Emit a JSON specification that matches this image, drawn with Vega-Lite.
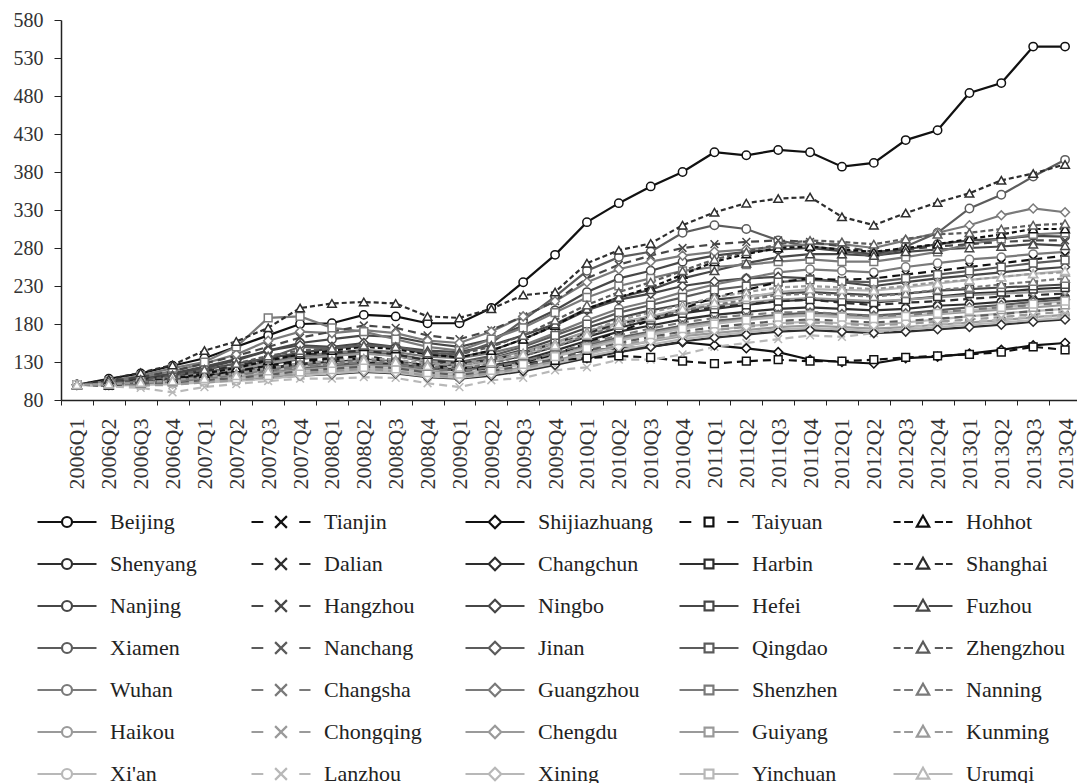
{
"$schema": "https://vega.github.io/schema/vega-lite/v6.json",
"width": 1020, "height": 380,
"padding": {"left": 13, "top": 10, "right": 0, "bottom": 0},
"background": "white",
"config": {"view": {"stroke": null}, "font": "Liberation Serif"},
"data": {"values": [
{"c":"Beijing","q":"2006Q1","v":100},{"c":"Beijing","q":"2006Q2","v":108},{"c":"Beijing","q":"2006Q3","v":115},{"c":"Beijing","q":"2006Q4","v":125},{"c":"Beijing","q":"2007Q1","v":135},{"c":"Beijing","q":"2007Q2","v":150},{"c":"Beijing","q":"2007Q3","v":165},{"c":"Beijing","q":"2007Q4","v":180},{"c":"Beijing","q":"2008Q1","v":181},{"c":"Beijing","q":"2008Q2","v":192},{"c":"Beijing","q":"2008Q3","v":190},{"c":"Beijing","q":"2008Q4","v":181},{"c":"Beijing","q":"2009Q1","v":181},{"c":"Beijing","q":"2009Q2","v":201},{"c":"Beijing","q":"2009Q3","v":235},{"c":"Beijing","q":"2009Q4","v":271},{"c":"Beijing","q":"2010Q1","v":314},{"c":"Beijing","q":"2010Q2","v":339},{"c":"Beijing","q":"2010Q3","v":361},{"c":"Beijing","q":"2010Q4","v":380},{"c":"Beijing","q":"2011Q1","v":406},{"c":"Beijing","q":"2011Q2","v":402},{"c":"Beijing","q":"2011Q3","v":409},{"c":"Beijing","q":"2011Q4","v":406},{"c":"Beijing","q":"2012Q1","v":387},{"c":"Beijing","q":"2012Q2","v":392},{"c":"Beijing","q":"2012Q3","v":422},{"c":"Beijing","q":"2012Q4","v":435},{"c":"Beijing","q":"2013Q1","v":484},{"c":"Beijing","q":"2013Q2","v":497},{"c":"Beijing","q":"2013Q3","v":545},{"c":"Beijing","q":"2013Q4","v":545},
{"c":"Tianjin","q":"2006Q1","v":100},{"c":"Tianjin","q":"2006Q2","v":101},{"c":"Tianjin","q":"2006Q3","v":104},{"c":"Tianjin","q":"2006Q4","v":108},{"c":"Tianjin","q":"2007Q1","v":112},{"c":"Tianjin","q":"2007Q2","v":118},{"c":"Tianjin","q":"2007Q3","v":125},{"c":"Tianjin","q":"2007Q4","v":132},{"c":"Tianjin","q":"2008Q1","v":135},{"c":"Tianjin","q":"2008Q2","v":138},{"c":"Tianjin","q":"2008Q3","v":132},{"c":"Tianjin","q":"2008Q4","v":125},{"c":"Tianjin","q":"2009Q1","v":118},{"c":"Tianjin","q":"2009Q2","v":122},{"c":"Tianjin","q":"2009Q3","v":130},{"c":"Tianjin","q":"2009Q4","v":140},{"c":"Tianjin","q":"2010Q1","v":155},{"c":"Tianjin","q":"2010Q2","v":170},{"c":"Tianjin","q":"2010Q3","v":185},{"c":"Tianjin","q":"2010Q4","v":200},{"c":"Tianjin","q":"2011Q1","v":215},{"c":"Tianjin","q":"2011Q2","v":225},{"c":"Tianjin","q":"2011Q3","v":235},{"c":"Tianjin","q":"2011Q4","v":240},{"c":"Tianjin","q":"2012Q1","v":238},{"c":"Tianjin","q":"2012Q2","v":240},{"c":"Tianjin","q":"2012Q3","v":245},{"c":"Tianjin","q":"2012Q4","v":250},{"c":"Tianjin","q":"2013Q1","v":255},{"c":"Tianjin","q":"2013Q2","v":260},{"c":"Tianjin","q":"2013Q3","v":265},{"c":"Tianjin","q":"2013Q4","v":270},
{"c":"Shijiazhuang","q":"2006Q1","v":100},{"c":"Shijiazhuang","q":"2006Q2","v":101},{"c":"Shijiazhuang","q":"2006Q3","v":103},{"c":"Shijiazhuang","q":"2006Q4","v":105},{"c":"Shijiazhuang","q":"2007Q1","v":108},{"c":"Shijiazhuang","q":"2007Q2","v":112},{"c":"Shijiazhuang","q":"2007Q3","v":118},{"c":"Shijiazhuang","q":"2007Q4","v":125},{"c":"Shijiazhuang","q":"2008Q1","v":128},{"c":"Shijiazhuang","q":"2008Q2","v":130},{"c":"Shijiazhuang","q":"2008Q3","v":127},{"c":"Shijiazhuang","q":"2008Q4","v":122},{"c":"Shijiazhuang","q":"2009Q1","v":120},{"c":"Shijiazhuang","q":"2009Q2","v":125},{"c":"Shijiazhuang","q":"2009Q3","v":132},{"c":"Shijiazhuang","q":"2009Q4","v":140},{"c":"Shijiazhuang","q":"2010Q1","v":145},{"c":"Shijiazhuang","q":"2010Q2","v":148},{"c":"Shijiazhuang","q":"2010Q3","v":150},{"c":"Shijiazhuang","q":"2010Q4","v":156},{"c":"Shijiazhuang","q":"2011Q1","v":152},{"c":"Shijiazhuang","q":"2011Q2","v":148},{"c":"Shijiazhuang","q":"2011Q3","v":143},{"c":"Shijiazhuang","q":"2011Q4","v":133},{"c":"Shijiazhuang","q":"2012Q1","v":130},{"c":"Shijiazhuang","q":"2012Q2","v":128},{"c":"Shijiazhuang","q":"2012Q3","v":135},{"c":"Shijiazhuang","q":"2012Q4","v":137},{"c":"Shijiazhuang","q":"2013Q1","v":141},{"c":"Shijiazhuang","q":"2013Q2","v":146},{"c":"Shijiazhuang","q":"2013Q3","v":152},{"c":"Shijiazhuang","q":"2013Q4","v":155},
{"c":"Taiyuan","q":"2006Q1","v":100},{"c":"Taiyuan","q":"2006Q2","v":102},{"c":"Taiyuan","q":"2006Q3","v":104},{"c":"Taiyuan","q":"2006Q4","v":106},{"c":"Taiyuan","q":"2007Q1","v":110},{"c":"Taiyuan","q":"2007Q2","v":115},{"c":"Taiyuan","q":"2007Q3","v":122},{"c":"Taiyuan","q":"2007Q4","v":130},{"c":"Taiyuan","q":"2008Q1","v":133},{"c":"Taiyuan","q":"2008Q2","v":135},{"c":"Taiyuan","q":"2008Q3","v":130},{"c":"Taiyuan","q":"2008Q4","v":125},{"c":"Taiyuan","q":"2009Q1","v":122},{"c":"Taiyuan","q":"2009Q2","v":124},{"c":"Taiyuan","q":"2009Q3","v":128},{"c":"Taiyuan","q":"2009Q4","v":132},{"c":"Taiyuan","q":"2010Q1","v":135},{"c":"Taiyuan","q":"2010Q2","v":138},{"c":"Taiyuan","q":"2010Q3","v":136},{"c":"Taiyuan","q":"2010Q4","v":131},{"c":"Taiyuan","q":"2011Q1","v":128},{"c":"Taiyuan","q":"2011Q2","v":131},{"c":"Taiyuan","q":"2011Q3","v":133},{"c":"Taiyuan","q":"2011Q4","v":131},{"c":"Taiyuan","q":"2012Q1","v":131},{"c":"Taiyuan","q":"2012Q2","v":133},{"c":"Taiyuan","q":"2012Q3","v":136},{"c":"Taiyuan","q":"2012Q4","v":138},{"c":"Taiyuan","q":"2013Q1","v":140},{"c":"Taiyuan","q":"2013Q2","v":143},{"c":"Taiyuan","q":"2013Q3","v":150},{"c":"Taiyuan","q":"2013Q4","v":146},
{"c":"Hohhot","q":"2006Q1","v":100},{"c":"Hohhot","q":"2006Q2","v":99},{"c":"Hohhot","q":"2006Q3","v":103},{"c":"Hohhot","q":"2006Q4","v":108},{"c":"Hohhot","q":"2007Q1","v":115},{"c":"Hohhot","q":"2007Q2","v":122},{"c":"Hohhot","q":"2007Q3","v":132},{"c":"Hohhot","q":"2007Q4","v":140},{"c":"Hohhot","q":"2008Q1","v":145},{"c":"Hohhot","q":"2008Q2","v":150},{"c":"Hohhot","q":"2008Q3","v":147},{"c":"Hohhot","q":"2008Q4","v":140},{"c":"Hohhot","q":"2009Q1","v":136},{"c":"Hohhot","q":"2009Q2","v":145},{"c":"Hohhot","q":"2009Q3","v":160},{"c":"Hohhot","q":"2009Q4","v":178},{"c":"Hohhot","q":"2010Q1","v":200},{"c":"Hohhot","q":"2010Q2","v":215},{"c":"Hohhot","q":"2010Q3","v":228},{"c":"Hohhot","q":"2010Q4","v":245},{"c":"Hohhot","q":"2011Q1","v":262},{"c":"Hohhot","q":"2011Q2","v":272},{"c":"Hohhot","q":"2011Q3","v":280},{"c":"Hohhot","q":"2011Q4","v":282},{"c":"Hohhot","q":"2012Q1","v":278},{"c":"Hohhot","q":"2012Q2","v":275},{"c":"Hohhot","q":"2012Q3","v":280},{"c":"Hohhot","q":"2012Q4","v":285},{"c":"Hohhot","q":"2013Q1","v":292},{"c":"Hohhot","q":"2013Q2","v":298},{"c":"Hohhot","q":"2013Q3","v":305},{"c":"Hohhot","q":"2013Q4","v":305},
{"c":"Shenyang","q":"2006Q1","v":100},{"c":"Shenyang","q":"2006Q2","v":102},{"c":"Shenyang","q":"2006Q3","v":104},{"c":"Shenyang","q":"2006Q4","v":107},{"c":"Shenyang","q":"2007Q1","v":111},{"c":"Shenyang","q":"2007Q2","v":116},{"c":"Shenyang","q":"2007Q3","v":122},{"c":"Shenyang","q":"2007Q4","v":128},{"c":"Shenyang","q":"2008Q1","v":130},{"c":"Shenyang","q":"2008Q2","v":132},{"c":"Shenyang","q":"2008Q3","v":129},{"c":"Shenyang","q":"2008Q4","v":123},{"c":"Shenyang","q":"2009Q1","v":120},{"c":"Shenyang","q":"2009Q2","v":125},{"c":"Shenyang","q":"2009Q3","v":133},{"c":"Shenyang","q":"2009Q4","v":145},{"c":"Shenyang","q":"2010Q1","v":158},{"c":"Shenyang","q":"2010Q2","v":170},{"c":"Shenyang","q":"2010Q3","v":178},{"c":"Shenyang","q":"2010Q4","v":186},{"c":"Shenyang","q":"2011Q1","v":192},{"c":"Shenyang","q":"2011Q2","v":196},{"c":"Shenyang","q":"2011Q3","v":200},{"c":"Shenyang","q":"2011Q4","v":202},{"c":"Shenyang","q":"2012Q1","v":200},{"c":"Shenyang","q":"2012Q2","v":198},{"c":"Shenyang","q":"2012Q3","v":200},{"c":"Shenyang","q":"2012Q4","v":204},{"c":"Shenyang","q":"2013Q1","v":206},{"c":"Shenyang","q":"2013Q2","v":209},{"c":"Shenyang","q":"2013Q3","v":212},{"c":"Shenyang","q":"2013Q4","v":215},
{"c":"Dalian","q":"2006Q1","v":100},{"c":"Dalian","q":"2006Q2","v":103},{"c":"Dalian","q":"2006Q3","v":107},{"c":"Dalian","q":"2006Q4","v":112},{"c":"Dalian","q":"2007Q1","v":118},{"c":"Dalian","q":"2007Q2","v":125},{"c":"Dalian","q":"2007Q3","v":133},{"c":"Dalian","q":"2007Q4","v":140},{"c":"Dalian","q":"2008Q1","v":142},{"c":"Dalian","q":"2008Q2","v":145},{"c":"Dalian","q":"2008Q3","v":140},{"c":"Dalian","q":"2008Q4","v":132},{"c":"Dalian","q":"2009Q1","v":128},{"c":"Dalian","q":"2009Q2","v":133},{"c":"Dalian","q":"2009Q3","v":142},{"c":"Dalian","q":"2009Q4","v":155},{"c":"Dalian","q":"2010Q1","v":168},{"c":"Dalian","q":"2010Q2","v":180},{"c":"Dalian","q":"2010Q3","v":188},{"c":"Dalian","q":"2010Q4","v":196},{"c":"Dalian","q":"2011Q1","v":202},{"c":"Dalian","q":"2011Q2","v":206},{"c":"Dalian","q":"2011Q3","v":210},{"c":"Dalian","q":"2011Q4","v":212},{"c":"Dalian","q":"2012Q1","v":208},{"c":"Dalian","q":"2012Q2","v":205},{"c":"Dalian","q":"2012Q3","v":208},{"c":"Dalian","q":"2012Q4","v":210},{"c":"Dalian","q":"2013Q1","v":213},{"c":"Dalian","q":"2013Q2","v":216},{"c":"Dalian","q":"2013Q3","v":218},{"c":"Dalian","q":"2013Q4","v":220},
{"c":"Changchun","q":"2006Q1","v":100},{"c":"Changchun","q":"2006Q2","v":100},{"c":"Changchun","q":"2006Q3","v":101},{"c":"Changchun","q":"2006Q4","v":102},{"c":"Changchun","q":"2007Q1","v":104},{"c":"Changchun","q":"2007Q2","v":106},{"c":"Changchun","q":"2007Q3","v":109},{"c":"Changchun","q":"2007Q4","v":112},{"c":"Changchun","q":"2008Q1","v":114},{"c":"Changchun","q":"2008Q2","v":117},{"c":"Changchun","q":"2008Q3","v":115},{"c":"Changchun","q":"2008Q4","v":110},{"c":"Changchun","q":"2009Q1","v":108},{"c":"Changchun","q":"2009Q2","v":112},{"c":"Changchun","q":"2009Q3","v":118},{"c":"Changchun","q":"2009Q4","v":126},{"c":"Changchun","q":"2010Q1","v":135},{"c":"Changchun","q":"2010Q2","v":143},{"c":"Changchun","q":"2010Q3","v":150},{"c":"Changchun","q":"2010Q4","v":157},{"c":"Changchun","q":"2011Q1","v":162},{"c":"Changchun","q":"2011Q2","v":166},{"c":"Changchun","q":"2011Q3","v":170},{"c":"Changchun","q":"2011Q4","v":172},{"c":"Changchun","q":"2012Q1","v":170},{"c":"Changchun","q":"2012Q2","v":168},{"c":"Changchun","q":"2012Q3","v":170},{"c":"Changchun","q":"2012Q4","v":173},{"c":"Changchun","q":"2013Q1","v":176},{"c":"Changchun","q":"2013Q2","v":179},{"c":"Changchun","q":"2013Q3","v":183},{"c":"Changchun","q":"2013Q4","v":186},
{"c":"Harbin","q":"2006Q1","v":100},{"c":"Harbin","q":"2006Q2","v":101},{"c":"Harbin","q":"2006Q3","v":103},{"c":"Harbin","q":"2006Q4","v":106},{"c":"Harbin","q":"2007Q1","v":110},{"c":"Harbin","q":"2007Q2","v":115},{"c":"Harbin","q":"2007Q3","v":121},{"c":"Harbin","q":"2007Q4","v":127},{"c":"Harbin","q":"2008Q1","v":130},{"c":"Harbin","q":"2008Q2","v":133},{"c":"Harbin","q":"2008Q3","v":131},{"c":"Harbin","q":"2008Q4","v":126},{"c":"Harbin","q":"2009Q1","v":124},{"c":"Harbin","q":"2009Q2","v":130},{"c":"Harbin","q":"2009Q3","v":138},{"c":"Harbin","q":"2009Q4","v":150},{"c":"Harbin","q":"2010Q1","v":163},{"c":"Harbin","q":"2010Q2","v":175},{"c":"Harbin","q":"2010Q3","v":185},{"c":"Harbin","q":"2010Q4","v":194},{"c":"Harbin","q":"2011Q1","v":200},{"c":"Harbin","q":"2011Q2","v":205},{"c":"Harbin","q":"2011Q3","v":210},{"c":"Harbin","q":"2011Q4","v":212},{"c":"Harbin","q":"2012Q1","v":210},{"c":"Harbin","q":"2012Q2","v":208},{"c":"Harbin","q":"2012Q3","v":212},{"c":"Harbin","q":"2012Q4","v":216},{"c":"Harbin","q":"2013Q1","v":220},{"c":"Harbin","q":"2013Q2","v":222},{"c":"Harbin","q":"2013Q3","v":226},{"c":"Harbin","q":"2013Q4","v":228},
{"c":"Shanghai","q":"2006Q1","v":100},{"c":"Shanghai","q":"2006Q2","v":107},{"c":"Shanghai","q":"2006Q3","v":116},{"c":"Shanghai","q":"2006Q4","v":126},{"c":"Shanghai","q":"2007Q1","v":145},{"c":"Shanghai","q":"2007Q2","v":157},{"c":"Shanghai","q":"2007Q3","v":175},{"c":"Shanghai","q":"2007Q4","v":201},{"c":"Shanghai","q":"2008Q1","v":207},{"c":"Shanghai","q":"2008Q2","v":209},{"c":"Shanghai","q":"2008Q3","v":207},{"c":"Shanghai","q":"2008Q4","v":190},{"c":"Shanghai","q":"2009Q1","v":188},{"c":"Shanghai","q":"2009Q2","v":200},{"c":"Shanghai","q":"2009Q3","v":218},{"c":"Shanghai","q":"2009Q4","v":222},{"c":"Shanghai","q":"2010Q1","v":260},{"c":"Shanghai","q":"2010Q2","v":277},{"c":"Shanghai","q":"2010Q3","v":286},{"c":"Shanghai","q":"2010Q4","v":310},{"c":"Shanghai","q":"2011Q1","v":327},{"c":"Shanghai","q":"2011Q2","v":339},{"c":"Shanghai","q":"2011Q3","v":345},{"c":"Shanghai","q":"2011Q4","v":347},{"c":"Shanghai","q":"2012Q1","v":321},{"c":"Shanghai","q":"2012Q2","v":310},{"c":"Shanghai","q":"2012Q3","v":326},{"c":"Shanghai","q":"2012Q4","v":340},{"c":"Shanghai","q":"2013Q1","v":352},{"c":"Shanghai","q":"2013Q2","v":369},{"c":"Shanghai","q":"2013Q3","v":378},{"c":"Shanghai","q":"2013Q4","v":390},
{"c":"Nanjing","q":"2006Q1","v":100},{"c":"Nanjing","q":"2006Q2","v":104},{"c":"Nanjing","q":"2006Q3","v":108},{"c":"Nanjing","q":"2006Q4","v":115},{"c":"Nanjing","q":"2007Q1","v":124},{"c":"Nanjing","q":"2007Q2","v":134},{"c":"Nanjing","q":"2007Q3","v":145},{"c":"Nanjing","q":"2007Q4","v":155},{"c":"Nanjing","q":"2008Q1","v":160},{"c":"Nanjing","q":"2008Q2","v":165},{"c":"Nanjing","q":"2008Q3","v":163},{"c":"Nanjing","q":"2008Q4","v":155},{"c":"Nanjing","q":"2009Q1","v":150},{"c":"Nanjing","q":"2009Q2","v":160},{"c":"Nanjing","q":"2009Q3","v":178},{"c":"Nanjing","q":"2009Q4","v":198},{"c":"Nanjing","q":"2010Q1","v":222},{"c":"Nanjing","q":"2010Q2","v":240},{"c":"Nanjing","q":"2010Q3","v":250},{"c":"Nanjing","q":"2010Q4","v":262},{"c":"Nanjing","q":"2011Q1","v":270},{"c":"Nanjing","q":"2011Q2","v":275},{"c":"Nanjing","q":"2011Q3","v":278},{"c":"Nanjing","q":"2011Q4","v":280},{"c":"Nanjing","q":"2012Q1","v":276},{"c":"Nanjing","q":"2012Q2","v":272},{"c":"Nanjing","q":"2012Q3","v":278},{"c":"Nanjing","q":"2012Q4","v":285},{"c":"Nanjing","q":"2013Q1","v":290},{"c":"Nanjing","q":"2013Q2","v":292},{"c":"Nanjing","q":"2013Q3","v":296},{"c":"Nanjing","q":"2013Q4","v":295},
{"c":"Hangzhou","q":"2006Q1","v":100},{"c":"Hangzhou","q":"2006Q2","v":105},{"c":"Hangzhou","q":"2006Q3","v":110},{"c":"Hangzhou","q":"2006Q4","v":118},{"c":"Hangzhou","q":"2007Q1","v":128},{"c":"Hangzhou","q":"2007Q2","v":138},{"c":"Hangzhou","q":"2007Q3","v":150},{"c":"Hangzhou","q":"2007Q4","v":162},{"c":"Hangzhou","q":"2008Q1","v":170},{"c":"Hangzhou","q":"2008Q2","v":178},{"c":"Hangzhou","q":"2008Q3","v":175},{"c":"Hangzhou","q":"2008Q4","v":165},{"c":"Hangzhou","q":"2009Q1","v":160},{"c":"Hangzhou","q":"2009Q2","v":172},{"c":"Hangzhou","q":"2009Q3","v":190},{"c":"Hangzhou","q":"2009Q4","v":210},{"c":"Hangzhou","q":"2010Q1","v":240},{"c":"Hangzhou","q":"2010Q2","v":258},{"c":"Hangzhou","q":"2010Q3","v":270},{"c":"Hangzhou","q":"2010Q4","v":280},{"c":"Hangzhou","q":"2011Q1","v":285},{"c":"Hangzhou","q":"2011Q2","v":288},{"c":"Hangzhou","q":"2011Q3","v":290},{"c":"Hangzhou","q":"2011Q4","v":288},{"c":"Hangzhou","q":"2012Q1","v":282},{"c":"Hangzhou","q":"2012Q2","v":275},{"c":"Hangzhou","q":"2012Q3","v":278},{"c":"Hangzhou","q":"2012Q4","v":282},{"c":"Hangzhou","q":"2013Q1","v":285},{"c":"Hangzhou","q":"2013Q2","v":288},{"c":"Hangzhou","q":"2013Q3","v":290},{"c":"Hangzhou","q":"2013Q4","v":290},
{"c":"Ningbo","q":"2006Q1","v":100},{"c":"Ningbo","q":"2006Q2","v":104},{"c":"Ningbo","q":"2006Q3","v":108},{"c":"Ningbo","q":"2006Q4","v":114},{"c":"Ningbo","q":"2007Q1","v":122},{"c":"Ningbo","q":"2007Q2","v":132},{"c":"Ningbo","q":"2007Q3","v":145},{"c":"Ningbo","q":"2007Q4","v":152},{"c":"Ningbo","q":"2008Q1","v":150},{"c":"Ningbo","q":"2008Q2","v":155},{"c":"Ningbo","q":"2008Q3","v":150},{"c":"Ningbo","q":"2008Q4","v":140},{"c":"Ningbo","q":"2009Q1","v":136},{"c":"Ningbo","q":"2009Q2","v":145},{"c":"Ningbo","q":"2009Q3","v":160},{"c":"Ningbo","q":"2009Q4","v":178},{"c":"Ningbo","q":"2010Q1","v":198},{"c":"Ningbo","q":"2010Q2","v":212},{"c":"Ningbo","q":"2010Q3","v":220},{"c":"Ningbo","q":"2010Q4","v":230},{"c":"Ningbo","q":"2011Q1","v":236},{"c":"Ningbo","q":"2011Q2","v":240},{"c":"Ningbo","q":"2011Q3","v":242},{"c":"Ningbo","q":"2011Q4","v":240},{"c":"Ningbo","q":"2012Q1","v":235},{"c":"Ningbo","q":"2012Q2","v":230},{"c":"Ningbo","q":"2012Q3","v":235},{"c":"Ningbo","q":"2012Q4","v":240},{"c":"Ningbo","q":"2013Q1","v":244},{"c":"Ningbo","q":"2013Q2","v":248},{"c":"Ningbo","q":"2013Q3","v":252},{"c":"Ningbo","q":"2013Q4","v":255},
{"c":"Hefei","q":"2006Q1","v":100},{"c":"Hefei","q":"2006Q2","v":102},{"c":"Hefei","q":"2006Q3","v":104},{"c":"Hefei","q":"2006Q4","v":107},{"c":"Hefei","q":"2007Q1","v":112},{"c":"Hefei","q":"2007Q2","v":118},{"c":"Hefei","q":"2007Q3","v":126},{"c":"Hefei","q":"2007Q4","v":134},{"c":"Hefei","q":"2008Q1","v":138},{"c":"Hefei","q":"2008Q2","v":142},{"c":"Hefei","q":"2008Q3","v":138},{"c":"Hefei","q":"2008Q4","v":130},{"c":"Hefei","q":"2009Q1","v":127},{"c":"Hefei","q":"2009Q2","v":135},{"c":"Hefei","q":"2009Q3","v":146},{"c":"Hefei","q":"2009Q4","v":160},{"c":"Hefei","q":"2010Q1","v":175},{"c":"Hefei","q":"2010Q2","v":188},{"c":"Hefei","q":"2010Q3","v":198},{"c":"Hefei","q":"2010Q4","v":206},{"c":"Hefei","q":"2011Q1","v":212},{"c":"Hefei","q":"2011Q2","v":216},{"c":"Hefei","q":"2011Q3","v":220},{"c":"Hefei","q":"2011Q4","v":222},{"c":"Hefei","q":"2012Q1","v":220},{"c":"Hefei","q":"2012Q2","v":218},{"c":"Hefei","q":"2012Q3","v":220},{"c":"Hefei","q":"2012Q4","v":224},{"c":"Hefei","q":"2013Q1","v":226},{"c":"Hefei","q":"2013Q2","v":228},{"c":"Hefei","q":"2013Q3","v":230},{"c":"Hefei","q":"2013Q4","v":232},
{"c":"Fuzhou","q":"2006Q1","v":100},{"c":"Fuzhou","q":"2006Q2","v":103},{"c":"Fuzhou","q":"2006Q3","v":107},{"c":"Fuzhou","q":"2006Q4","v":113},{"c":"Fuzhou","q":"2007Q1","v":120},{"c":"Fuzhou","q":"2007Q2","v":128},{"c":"Fuzhou","q":"2007Q3","v":135},{"c":"Fuzhou","q":"2007Q4","v":142},{"c":"Fuzhou","q":"2008Q1","v":148},{"c":"Fuzhou","q":"2008Q2","v":152},{"c":"Fuzhou","q":"2008Q3","v":150},{"c":"Fuzhou","q":"2008Q4","v":145},{"c":"Fuzhou","q":"2009Q1","v":143},{"c":"Fuzhou","q":"2009Q2","v":152},{"c":"Fuzhou","q":"2009Q3","v":165},{"c":"Fuzhou","q":"2009Q4","v":180},{"c":"Fuzhou","q":"2010Q1","v":200},{"c":"Fuzhou","q":"2010Q2","v":215},{"c":"Fuzhou","q":"2010Q3","v":225},{"c":"Fuzhou","q":"2010Q4","v":240},{"c":"Fuzhou","q":"2011Q1","v":250},{"c":"Fuzhou","q":"2011Q2","v":260},{"c":"Fuzhou","q":"2011Q3","v":268},{"c":"Fuzhou","q":"2011Q4","v":272},{"c":"Fuzhou","q":"2012Q1","v":272},{"c":"Fuzhou","q":"2012Q2","v":270},{"c":"Fuzhou","q":"2012Q3","v":275},{"c":"Fuzhou","q":"2012Q4","v":278},{"c":"Fuzhou","q":"2013Q1","v":280},{"c":"Fuzhou","q":"2013Q2","v":282},{"c":"Fuzhou","q":"2013Q3","v":285},{"c":"Fuzhou","q":"2013Q4","v":283},
{"c":"Xiamen","q":"2006Q1","v":100},{"c":"Xiamen","q":"2006Q2","v":103},{"c":"Xiamen","q":"2006Q3","v":106},{"c":"Xiamen","q":"2006Q4","v":110},{"c":"Xiamen","q":"2007Q1","v":116},{"c":"Xiamen","q":"2007Q2","v":124},{"c":"Xiamen","q":"2007Q3","v":135},{"c":"Xiamen","q":"2007Q4","v":150},{"c":"Xiamen","q":"2008Q1","v":148},{"c":"Xiamen","q":"2008Q2","v":152},{"c":"Xiamen","q":"2008Q3","v":150},{"c":"Xiamen","q":"2008Q4","v":142},{"c":"Xiamen","q":"2009Q1","v":140},{"c":"Xiamen","q":"2009Q2","v":155},{"c":"Xiamen","q":"2009Q3","v":185},{"c":"Xiamen","q":"2009Q4","v":216},{"c":"Xiamen","q":"2010Q1","v":250},{"c":"Xiamen","q":"2010Q2","v":268},{"c":"Xiamen","q":"2010Q3","v":275},{"c":"Xiamen","q":"2010Q4","v":300},{"c":"Xiamen","q":"2011Q1","v":310},{"c":"Xiamen","q":"2011Q2","v":305},{"c":"Xiamen","q":"2011Q3","v":290},{"c":"Xiamen","q":"2011Q4","v":282},{"c":"Xiamen","q":"2012Q1","v":278},{"c":"Xiamen","q":"2012Q2","v":268},{"c":"Xiamen","q":"2012Q3","v":282},{"c":"Xiamen","q":"2012Q4","v":300},{"c":"Xiamen","q":"2013Q1","v":332},{"c":"Xiamen","q":"2013Q2","v":350},{"c":"Xiamen","q":"2013Q3","v":374},{"c":"Xiamen","q":"2013Q4","v":396},
{"c":"Nanchang","q":"2006Q1","v":100},{"c":"Nanchang","q":"2006Q2","v":100},{"c":"Nanchang","q":"2006Q3","v":101},{"c":"Nanchang","q":"2006Q4","v":103},{"c":"Nanchang","q":"2007Q1","v":106},{"c":"Nanchang","q":"2007Q2","v":109},{"c":"Nanchang","q":"2007Q3","v":113},{"c":"Nanchang","q":"2007Q4","v":118},{"c":"Nanchang","q":"2008Q1","v":121},{"c":"Nanchang","q":"2008Q2","v":124},{"c":"Nanchang","q":"2008Q3","v":122},{"c":"Nanchang","q":"2008Q4","v":116},{"c":"Nanchang","q":"2009Q1","v":113},{"c":"Nanchang","q":"2009Q2","v":118},{"c":"Nanchang","q":"2009Q3","v":125},{"c":"Nanchang","q":"2009Q4","v":134},{"c":"Nanchang","q":"2010Q1","v":145},{"c":"Nanchang","q":"2010Q2","v":155},{"c":"Nanchang","q":"2010Q3","v":163},{"c":"Nanchang","q":"2010Q4","v":170},{"c":"Nanchang","q":"2011Q1","v":176},{"c":"Nanchang","q":"2011Q2","v":180},{"c":"Nanchang","q":"2011Q3","v":184},{"c":"Nanchang","q":"2011Q4","v":186},{"c":"Nanchang","q":"2012Q1","v":184},{"c":"Nanchang","q":"2012Q2","v":182},{"c":"Nanchang","q":"2012Q3","v":184},{"c":"Nanchang","q":"2012Q4","v":187},{"c":"Nanchang","q":"2013Q1","v":190},{"c":"Nanchang","q":"2013Q2","v":193},{"c":"Nanchang","q":"2013Q3","v":197},{"c":"Nanchang","q":"2013Q4","v":200},
{"c":"Jinan","q":"2006Q1","v":100},{"c":"Jinan","q":"2006Q2","v":101},{"c":"Jinan","q":"2006Q3","v":102},{"c":"Jinan","q":"2006Q4","v":104},{"c":"Jinan","q":"2007Q1","v":107},{"c":"Jinan","q":"2007Q2","v":111},{"c":"Jinan","q":"2007Q3","v":117},{"c":"Jinan","q":"2007Q4","v":122},{"c":"Jinan","q":"2008Q1","v":125},{"c":"Jinan","q":"2008Q2","v":128},{"c":"Jinan","q":"2008Q3","v":126},{"c":"Jinan","q":"2008Q4","v":121},{"c":"Jinan","q":"2009Q1","v":119},{"c":"Jinan","q":"2009Q2","v":124},{"c":"Jinan","q":"2009Q3","v":131},{"c":"Jinan","q":"2009Q4","v":141},{"c":"Jinan","q":"2010Q1","v":152},{"c":"Jinan","q":"2010Q2","v":162},{"c":"Jinan","q":"2010Q3","v":170},{"c":"Jinan","q":"2010Q4","v":178},{"c":"Jinan","q":"2011Q1","v":184},{"c":"Jinan","q":"2011Q2","v":188},{"c":"Jinan","q":"2011Q3","v":192},{"c":"Jinan","q":"2011Q4","v":195},{"c":"Jinan","q":"2012Q1","v":193},{"c":"Jinan","q":"2012Q2","v":191},{"c":"Jinan","q":"2012Q3","v":194},{"c":"Jinan","q":"2012Q4","v":198},{"c":"Jinan","q":"2013Q1","v":202},{"c":"Jinan","q":"2013Q2","v":205},{"c":"Jinan","q":"2013Q3","v":209},{"c":"Jinan","q":"2013Q4","v":212},
{"c":"Qingdao","q":"2006Q1","v":100},{"c":"Qingdao","q":"2006Q2","v":103},{"c":"Qingdao","q":"2006Q3","v":106},{"c":"Qingdao","q":"2006Q4","v":110},{"c":"Qingdao","q":"2007Q1","v":116},{"c":"Qingdao","q":"2007Q2","v":122},{"c":"Qingdao","q":"2007Q3","v":130},{"c":"Qingdao","q":"2007Q4","v":136},{"c":"Qingdao","q":"2008Q1","v":140},{"c":"Qingdao","q":"2008Q2","v":143},{"c":"Qingdao","q":"2008Q3","v":140},{"c":"Qingdao","q":"2008Q4","v":133},{"c":"Qingdao","q":"2009Q1","v":130},{"c":"Qingdao","q":"2009Q2","v":138},{"c":"Qingdao","q":"2009Q3","v":150},{"c":"Qingdao","q":"2009Q4","v":165},{"c":"Qingdao","q":"2010Q1","v":180},{"c":"Qingdao","q":"2010Q2","v":195},{"c":"Qingdao","q":"2010Q3","v":205},{"c":"Qingdao","q":"2010Q4","v":215},{"c":"Qingdao","q":"2011Q1","v":225},{"c":"Qingdao","q":"2011Q2","v":230},{"c":"Qingdao","q":"2011Q3","v":235},{"c":"Qingdao","q":"2011Q4","v":238},{"c":"Qingdao","q":"2012Q1","v":236},{"c":"Qingdao","q":"2012Q2","v":235},{"c":"Qingdao","q":"2012Q3","v":240},{"c":"Qingdao","q":"2012Q4","v":245},{"c":"Qingdao","q":"2013Q1","v":250},{"c":"Qingdao","q":"2013Q2","v":255},{"c":"Qingdao","q":"2013Q3","v":260},{"c":"Qingdao","q":"2013Q4","v":264},
{"c":"Zhengzhou","q":"2006Q1","v":100},{"c":"Zhengzhou","q":"2006Q2","v":102},{"c":"Zhengzhou","q":"2006Q3","v":106},{"c":"Zhengzhou","q":"2006Q4","v":112},{"c":"Zhengzhou","q":"2007Q1","v":120},{"c":"Zhengzhou","q":"2007Q2","v":128},{"c":"Zhengzhou","q":"2007Q3","v":138},{"c":"Zhengzhou","q":"2007Q4","v":145},{"c":"Zhengzhou","q":"2008Q1","v":148},{"c":"Zhengzhou","q":"2008Q2","v":152},{"c":"Zhengzhou","q":"2008Q3","v":150},{"c":"Zhengzhou","q":"2008Q4","v":142},{"c":"Zhengzhou","q":"2009Q1","v":140},{"c":"Zhengzhou","q":"2009Q2","v":150},{"c":"Zhengzhou","q":"2009Q3","v":165},{"c":"Zhengzhou","q":"2009Q4","v":185},{"c":"Zhengzhou","q":"2010Q1","v":205},{"c":"Zhengzhou","q":"2010Q2","v":222},{"c":"Zhengzhou","q":"2010Q3","v":235},{"c":"Zhengzhou","q":"2010Q4","v":250},{"c":"Zhengzhou","q":"2011Q1","v":265},{"c":"Zhengzhou","q":"2011Q2","v":275},{"c":"Zhengzhou","q":"2011Q3","v":285},{"c":"Zhengzhou","q":"2011Q4","v":290},{"c":"Zhengzhou","q":"2012Q1","v":288},{"c":"Zhengzhou","q":"2012Q2","v":285},{"c":"Zhengzhou","q":"2012Q3","v":292},{"c":"Zhengzhou","q":"2012Q4","v":298},{"c":"Zhengzhou","q":"2013Q1","v":300},{"c":"Zhengzhou","q":"2013Q2","v":305},{"c":"Zhengzhou","q":"2013Q3","v":310},{"c":"Zhengzhou","q":"2013Q4","v":312},
{"c":"Wuhan","q":"2006Q1","v":100},{"c":"Wuhan","q":"2006Q2","v":102},{"c":"Wuhan","q":"2006Q3","v":105},{"c":"Wuhan","q":"2006Q4","v":110},{"c":"Wuhan","q":"2007Q1","v":116},{"c":"Wuhan","q":"2007Q2","v":122},{"c":"Wuhan","q":"2007Q3","v":130},{"c":"Wuhan","q":"2007Q4","v":138},{"c":"Wuhan","q":"2008Q1","v":142},{"c":"Wuhan","q":"2008Q2","v":146},{"c":"Wuhan","q":"2008Q3","v":143},{"c":"Wuhan","q":"2008Q4","v":137},{"c":"Wuhan","q":"2009Q1","v":135},{"c":"Wuhan","q":"2009Q2","v":142},{"c":"Wuhan","q":"2009Q3","v":152},{"c":"Wuhan","q":"2009Q4","v":168},{"c":"Wuhan","q":"2010Q1","v":185},{"c":"Wuhan","q":"2010Q2","v":200},{"c":"Wuhan","q":"2010Q3","v":210},{"c":"Wuhan","q":"2010Q4","v":222},{"c":"Wuhan","q":"2011Q1","v":232},{"c":"Wuhan","q":"2011Q2","v":240},{"c":"Wuhan","q":"2011Q3","v":248},{"c":"Wuhan","q":"2011Q4","v":252},{"c":"Wuhan","q":"2012Q1","v":250},{"c":"Wuhan","q":"2012Q2","v":248},{"c":"Wuhan","q":"2012Q3","v":255},{"c":"Wuhan","q":"2012Q4","v":260},{"c":"Wuhan","q":"2013Q1","v":265},{"c":"Wuhan","q":"2013Q2","v":268},{"c":"Wuhan","q":"2013Q3","v":272},{"c":"Wuhan","q":"2013Q4","v":275},
{"c":"Changsha","q":"2006Q1","v":100},{"c":"Changsha","q":"2006Q2","v":102},{"c":"Changsha","q":"2006Q3","v":104},{"c":"Changsha","q":"2006Q4","v":106},{"c":"Changsha","q":"2007Q1","v":109},{"c":"Changsha","q":"2007Q2","v":113},{"c":"Changsha","q":"2007Q3","v":118},{"c":"Changsha","q":"2007Q4","v":124},{"c":"Changsha","q":"2008Q1","v":127},{"c":"Changsha","q":"2008Q2","v":130},{"c":"Changsha","q":"2008Q3","v":127},{"c":"Changsha","q":"2008Q4","v":121},{"c":"Changsha","q":"2009Q1","v":118},{"c":"Changsha","q":"2009Q2","v":123},{"c":"Changsha","q":"2009Q3","v":131},{"c":"Changsha","q":"2009Q4","v":142},{"c":"Changsha","q":"2010Q1","v":154},{"c":"Changsha","q":"2010Q2","v":165},{"c":"Changsha","q":"2010Q3","v":174},{"c":"Changsha","q":"2010Q4","v":182},{"c":"Changsha","q":"2011Q1","v":188},{"c":"Changsha","q":"2011Q2","v":192},{"c":"Changsha","q":"2011Q3","v":195},{"c":"Changsha","q":"2011Q4","v":196},{"c":"Changsha","q":"2012Q1","v":193},{"c":"Changsha","q":"2012Q2","v":190},{"c":"Changsha","q":"2012Q3","v":192},{"c":"Changsha","q":"2012Q4","v":195},{"c":"Changsha","q":"2013Q1","v":199},{"c":"Changsha","q":"2013Q2","v":202},{"c":"Changsha","q":"2013Q3","v":205},{"c":"Changsha","q":"2013Q4","v":208},
{"c":"Guangzhou","q":"2006Q1","v":100},{"c":"Guangzhou","q":"2006Q2","v":104},{"c":"Guangzhou","q":"2006Q3","v":110},{"c":"Guangzhou","q":"2006Q4","v":118},{"c":"Guangzhou","q":"2007Q1","v":128},{"c":"Guangzhou","q":"2007Q2","v":140},{"c":"Guangzhou","q":"2007Q3","v":158},{"c":"Guangzhou","q":"2007Q4","v":170},{"c":"Guangzhou","q":"2008Q1","v":168},{"c":"Guangzhou","q":"2008Q2","v":172},{"c":"Guangzhou","q":"2008Q3","v":168},{"c":"Guangzhou","q":"2008Q4","v":158},{"c":"Guangzhou","q":"2009Q1","v":155},{"c":"Guangzhou","q":"2009Q2","v":170},{"c":"Guangzhou","q":"2009Q3","v":190},{"c":"Guangzhou","q":"2009Q4","v":210},{"c":"Guangzhou","q":"2010Q1","v":235},{"c":"Guangzhou","q":"2010Q2","v":252},{"c":"Guangzhou","q":"2010Q3","v":262},{"c":"Guangzhou","q":"2010Q4","v":270},{"c":"Guangzhou","q":"2011Q1","v":275},{"c":"Guangzhou","q":"2011Q2","v":278},{"c":"Guangzhou","q":"2011Q3","v":282},{"c":"Guangzhou","q":"2011Q4","v":285},{"c":"Guangzhou","q":"2012Q1","v":285},{"c":"Guangzhou","q":"2012Q2","v":280},{"c":"Guangzhou","q":"2012Q3","v":290},{"c":"Guangzhou","q":"2012Q4","v":300},{"c":"Guangzhou","q":"2013Q1","v":310},{"c":"Guangzhou","q":"2013Q2","v":323},{"c":"Guangzhou","q":"2013Q3","v":332},{"c":"Guangzhou","q":"2013Q4","v":327},
{"c":"Shenzhen","q":"2006Q1","v":100},{"c":"Shenzhen","q":"2006Q2","v":105},{"c":"Shenzhen","q":"2006Q3","v":112},{"c":"Shenzhen","q":"2006Q4","v":122},{"c":"Shenzhen","q":"2007Q1","v":130},{"c":"Shenzhen","q":"2007Q2","v":150},{"c":"Shenzhen","q":"2007Q3","v":188},{"c":"Shenzhen","q":"2007Q4","v":190},{"c":"Shenzhen","q":"2008Q1","v":175},{"c":"Shenzhen","q":"2008Q2","v":170},{"c":"Shenzhen","q":"2008Q3","v":160},{"c":"Shenzhen","q":"2008Q4","v":150},{"c":"Shenzhen","q":"2009Q1","v":145},{"c":"Shenzhen","q":"2009Q2","v":160},{"c":"Shenzhen","q":"2009Q3","v":175},{"c":"Shenzhen","q":"2009Q4","v":195},{"c":"Shenzhen","q":"2010Q1","v":215},{"c":"Shenzhen","q":"2010Q2","v":230},{"c":"Shenzhen","q":"2010Q3","v":240},{"c":"Shenzhen","q":"2010Q4","v":250},{"c":"Shenzhen","q":"2011Q1","v":255},{"c":"Shenzhen","q":"2011Q2","v":258},{"c":"Shenzhen","q":"2011Q3","v":262},{"c":"Shenzhen","q":"2011Q4","v":265},{"c":"Shenzhen","q":"2012Q1","v":262},{"c":"Shenzhen","q":"2012Q2","v":262},{"c":"Shenzhen","q":"2012Q3","v":268},{"c":"Shenzhen","q":"2012Q4","v":275},{"c":"Shenzhen","q":"2013Q1","v":285},{"c":"Shenzhen","q":"2013Q2","v":292},{"c":"Shenzhen","q":"2013Q3","v":298},{"c":"Shenzhen","q":"2013Q4","v":300},
{"c":"Nanning","q":"2006Q1","v":100},{"c":"Nanning","q":"2006Q2","v":100},{"c":"Nanning","q":"2006Q3","v":102},{"c":"Nanning","q":"2006Q4","v":104},{"c":"Nanning","q":"2007Q1","v":108},{"c":"Nanning","q":"2007Q2","v":113},{"c":"Nanning","q":"2007Q3","v":120},{"c":"Nanning","q":"2007Q4","v":125},{"c":"Nanning","q":"2008Q1","v":128},{"c":"Nanning","q":"2008Q2","v":132},{"c":"Nanning","q":"2008Q3","v":130},{"c":"Nanning","q":"2008Q4","v":124},{"c":"Nanning","q":"2009Q1","v":121},{"c":"Nanning","q":"2009Q2","v":128},{"c":"Nanning","q":"2009Q3","v":138},{"c":"Nanning","q":"2009Q4","v":150},{"c":"Nanning","q":"2010Q1","v":165},{"c":"Nanning","q":"2010Q2","v":178},{"c":"Nanning","q":"2010Q3","v":188},{"c":"Nanning","q":"2010Q4","v":198},{"c":"Nanning","q":"2011Q1","v":205},{"c":"Nanning","q":"2011Q2","v":212},{"c":"Nanning","q":"2011Q3","v":218},{"c":"Nanning","q":"2011Q4","v":220},{"c":"Nanning","q":"2012Q1","v":218},{"c":"Nanning","q":"2012Q2","v":216},{"c":"Nanning","q":"2012Q3","v":220},{"c":"Nanning","q":"2012Q4","v":225},{"c":"Nanning","q":"2013Q1","v":228},{"c":"Nanning","q":"2013Q2","v":232},{"c":"Nanning","q":"2013Q3","v":236},{"c":"Nanning","q":"2013Q4","v":240},
{"c":"Haikou","q":"2006Q1","v":100},{"c":"Haikou","q":"2006Q2","v":100},{"c":"Haikou","q":"2006Q3","v":101},{"c":"Haikou","q":"2006Q4","v":102},{"c":"Haikou","q":"2007Q1","v":104},{"c":"Haikou","q":"2007Q2","v":107},{"c":"Haikou","q":"2007Q3","v":111},{"c":"Haikou","q":"2007Q4","v":115},{"c":"Haikou","q":"2008Q1","v":117},{"c":"Haikou","q":"2008Q2","v":120},{"c":"Haikou","q":"2008Q3","v":118},{"c":"Haikou","q":"2008Q4","v":113},{"c":"Haikou","q":"2009Q1","v":111},{"c":"Haikou","q":"2009Q2","v":116},{"c":"Haikou","q":"2009Q3","v":123},{"c":"Haikou","q":"2009Q4","v":132},{"c":"Haikou","q":"2010Q1","v":142},{"c":"Haikou","q":"2010Q2","v":150},{"c":"Haikou","q":"2010Q3","v":157},{"c":"Haikou","q":"2010Q4","v":164},{"c":"Haikou","q":"2011Q1","v":168},{"c":"Haikou","q":"2011Q2","v":172},{"c":"Haikou","q":"2011Q3","v":176},{"c":"Haikou","q":"2011Q4","v":178},{"c":"Haikou","q":"2012Q1","v":176},{"c":"Haikou","q":"2012Q2","v":174},{"c":"Haikou","q":"2012Q3","v":176},{"c":"Haikou","q":"2012Q4","v":179},{"c":"Haikou","q":"2013Q1","v":182},{"c":"Haikou","q":"2013Q2","v":185},{"c":"Haikou","q":"2013Q3","v":189},{"c":"Haikou","q":"2013Q4","v":192},
{"c":"Chongqing","q":"2006Q1","v":100},{"c":"Chongqing","q":"2006Q2","v":99},{"c":"Chongqing","q":"2006Q3","v":99},{"c":"Chongqing","q":"2006Q4","v":100},{"c":"Chongqing","q":"2007Q1","v":103},{"c":"Chongqing","q":"2007Q2","v":106},{"c":"Chongqing","q":"2007Q3","v":110},{"c":"Chongqing","q":"2007Q4","v":115},{"c":"Chongqing","q":"2008Q1","v":118},{"c":"Chongqing","q":"2008Q2","v":121},{"c":"Chongqing","q":"2008Q3","v":118},{"c":"Chongqing","q":"2008Q4","v":112},{"c":"Chongqing","q":"2009Q1","v":110},{"c":"Chongqing","q":"2009Q2","v":115},{"c":"Chongqing","q":"2009Q3","v":122},{"c":"Chongqing","q":"2009Q4","v":131},{"c":"Chongqing","q":"2010Q1","v":142},{"c":"Chongqing","q":"2010Q2","v":152},{"c":"Chongqing","q":"2010Q3","v":160},{"c":"Chongqing","q":"2010Q4","v":167},{"c":"Chongqing","q":"2011Q1","v":172},{"c":"Chongqing","q":"2011Q2","v":176},{"c":"Chongqing","q":"2011Q3","v":180},{"c":"Chongqing","q":"2011Q4","v":182},{"c":"Chongqing","q":"2012Q1","v":180},{"c":"Chongqing","q":"2012Q2","v":178},{"c":"Chongqing","q":"2012Q3","v":180},{"c":"Chongqing","q":"2012Q4","v":183},{"c":"Chongqing","q":"2013Q1","v":186},{"c":"Chongqing","q":"2013Q2","v":189},{"c":"Chongqing","q":"2013Q3","v":193},{"c":"Chongqing","q":"2013Q4","v":196},
{"c":"Chengdu","q":"2006Q1","v":100},{"c":"Chengdu","q":"2006Q2","v":102},{"c":"Chengdu","q":"2006Q3","v":105},{"c":"Chengdu","q":"2006Q4","v":109},{"c":"Chengdu","q":"2007Q1","v":114},{"c":"Chengdu","q":"2007Q2","v":120},{"c":"Chengdu","q":"2007Q3","v":128},{"c":"Chengdu","q":"2007Q4","v":135},{"c":"Chengdu","q":"2008Q1","v":138},{"c":"Chengdu","q":"2008Q2","v":141},{"c":"Chengdu","q":"2008Q3","v":138},{"c":"Chengdu","q":"2008Q4","v":131},{"c":"Chengdu","q":"2009Q1","v":128},{"c":"Chengdu","q":"2009Q2","v":134},{"c":"Chengdu","q":"2009Q3","v":144},{"c":"Chengdu","q":"2009Q4","v":156},{"c":"Chengdu","q":"2010Q1","v":170},{"c":"Chengdu","q":"2010Q2","v":182},{"c":"Chengdu","q":"2010Q3","v":190},{"c":"Chengdu","q":"2010Q4","v":198},{"c":"Chengdu","q":"2011Q1","v":204},{"c":"Chengdu","q":"2011Q2","v":208},{"c":"Chengdu","q":"2011Q3","v":212},{"c":"Chengdu","q":"2011Q4","v":214},{"c":"Chengdu","q":"2012Q1","v":212},{"c":"Chengdu","q":"2012Q2","v":210},{"c":"Chengdu","q":"2012Q3","v":212},{"c":"Chengdu","q":"2012Q4","v":215},{"c":"Chengdu","q":"2013Q1","v":218},{"c":"Chengdu","q":"2013Q2","v":220},{"c":"Chengdu","q":"2013Q3","v":222},{"c":"Chengdu","q":"2013Q4","v":224},
{"c":"Guiyang","q":"2006Q1","v":100},{"c":"Guiyang","q":"2006Q2","v":101},{"c":"Guiyang","q":"2006Q3","v":102},{"c":"Guiyang","q":"2006Q4","v":104},{"c":"Guiyang","q":"2007Q1","v":106},{"c":"Guiyang","q":"2007Q2","v":110},{"c":"Guiyang","q":"2007Q3","v":115},{"c":"Guiyang","q":"2007Q4","v":120},{"c":"Guiyang","q":"2008Q1","v":123},{"c":"Guiyang","q":"2008Q2","v":126},{"c":"Guiyang","q":"2008Q3","v":124},{"c":"Guiyang","q":"2008Q4","v":118},{"c":"Guiyang","q":"2009Q1","v":115},{"c":"Guiyang","q":"2009Q2","v":120},{"c":"Guiyang","q":"2009Q3","v":128},{"c":"Guiyang","q":"2009Q4","v":138},{"c":"Guiyang","q":"2010Q1","v":150},{"c":"Guiyang","q":"2010Q2","v":160},{"c":"Guiyang","q":"2010Q3","v":168},{"c":"Guiyang","q":"2010Q4","v":176},{"c":"Guiyang","q":"2011Q1","v":182},{"c":"Guiyang","q":"2011Q2","v":186},{"c":"Guiyang","q":"2011Q3","v":190},{"c":"Guiyang","q":"2011Q4","v":192},{"c":"Guiyang","q":"2012Q1","v":190},{"c":"Guiyang","q":"2012Q2","v":188},{"c":"Guiyang","q":"2012Q3","v":190},{"c":"Guiyang","q":"2012Q4","v":193},{"c":"Guiyang","q":"2013Q1","v":196},{"c":"Guiyang","q":"2013Q2","v":199},{"c":"Guiyang","q":"2013Q3","v":202},{"c":"Guiyang","q":"2013Q4","v":205},
{"c":"Kunming","q":"2006Q1","v":100},{"c":"Kunming","q":"2006Q2","v":101},{"c":"Kunming","q":"2006Q3","v":103},{"c":"Kunming","q":"2006Q4","v":106},{"c":"Kunming","q":"2007Q1","v":110},{"c":"Kunming","q":"2007Q2","v":115},{"c":"Kunming","q":"2007Q3","v":122},{"c":"Kunming","q":"2007Q4","v":128},{"c":"Kunming","q":"2008Q1","v":132},{"c":"Kunming","q":"2008Q2","v":135},{"c":"Kunming","q":"2008Q3","v":133},{"c":"Kunming","q":"2008Q4","v":128},{"c":"Kunming","q":"2009Q1","v":126},{"c":"Kunming","q":"2009Q2","v":132},{"c":"Kunming","q":"2009Q3","v":142},{"c":"Kunming","q":"2009Q4","v":155},{"c":"Kunming","q":"2010Q1","v":170},{"c":"Kunming","q":"2010Q2","v":185},{"c":"Kunming","q":"2010Q3","v":195},{"c":"Kunming","q":"2010Q4","v":205},{"c":"Kunming","q":"2011Q1","v":215},{"c":"Kunming","q":"2011Q2","v":222},{"c":"Kunming","q":"2011Q3","v":228},{"c":"Kunming","q":"2011Q4","v":230},{"c":"Kunming","q":"2012Q1","v":228},{"c":"Kunming","q":"2012Q2","v":226},{"c":"Kunming","q":"2012Q3","v":230},{"c":"Kunming","q":"2012Q4","v":235},{"c":"Kunming","q":"2013Q1","v":238},{"c":"Kunming","q":"2013Q2","v":242},{"c":"Kunming","q":"2013Q3","v":246},{"c":"Kunming","q":"2013Q4","v":248},
{"c":"Xi'an","q":"2006Q1","v":100},{"c":"Xi'an","q":"2006Q2","v":101},{"c":"Xi'an","q":"2006Q3","v":102},{"c":"Xi'an","q":"2006Q4","v":103},{"c":"Xi'an","q":"2007Q1","v":105},{"c":"Xi'an","q":"2007Q2","v":108},{"c":"Xi'an","q":"2007Q3","v":112},{"c":"Xi'an","q":"2007Q4","v":116},{"c":"Xi'an","q":"2008Q1","v":118},{"c":"Xi'an","q":"2008Q2","v":120},{"c":"Xi'an","q":"2008Q3","v":118},{"c":"Xi'an","q":"2008Q4","v":113},{"c":"Xi'an","q":"2009Q1","v":110},{"c":"Xi'an","q":"2009Q2","v":114},{"c":"Xi'an","q":"2009Q3","v":120},{"c":"Xi'an","q":"2009Q4","v":128},{"c":"Xi'an","q":"2010Q1","v":137},{"c":"Xi'an","q":"2010Q2","v":146},{"c":"Xi'an","q":"2010Q3","v":153},{"c":"Xi'an","q":"2010Q4","v":160},{"c":"Xi'an","q":"2011Q1","v":165},{"c":"Xi'an","q":"2011Q2","v":169},{"c":"Xi'an","q":"2011Q3","v":173},{"c":"Xi'an","q":"2011Q4","v":175},{"c":"Xi'an","q":"2012Q1","v":173},{"c":"Xi'an","q":"2012Q2","v":171},{"c":"Xi'an","q":"2012Q3","v":173},{"c":"Xi'an","q":"2012Q4","v":176},{"c":"Xi'an","q":"2013Q1","v":179},{"c":"Xi'an","q":"2013Q2","v":182},{"c":"Xi'an","q":"2013Q3","v":185},{"c":"Xi'an","q":"2013Q4","v":188},
{"c":"Lanzhou","q":"2006Q1","v":100},{"c":"Lanzhou","q":"2006Q2","v":98},{"c":"Lanzhou","q":"2006Q3","v":96},{"c":"Lanzhou","q":"2006Q4","v":90},{"c":"Lanzhou","q":"2007Q1","v":97},{"c":"Lanzhou","q":"2007Q2","v":101},{"c":"Lanzhou","q":"2007Q3","v":105},{"c":"Lanzhou","q":"2007Q4","v":108},{"c":"Lanzhou","q":"2008Q1","v":108},{"c":"Lanzhou","q":"2008Q2","v":110},{"c":"Lanzhou","q":"2008Q3","v":109},{"c":"Lanzhou","q":"2008Q4","v":102},{"c":"Lanzhou","q":"2009Q1","v":97},{"c":"Lanzhou","q":"2009Q2","v":106},{"c":"Lanzhou","q":"2009Q3","v":109},{"c":"Lanzhou","q":"2009Q4","v":119},{"c":"Lanzhou","q":"2010Q1","v":123},{"c":"Lanzhou","q":"2010Q2","v":133},{"c":"Lanzhou","q":"2010Q3","v":133},{"c":"Lanzhou","q":"2010Q4","v":140},{"c":"Lanzhou","q":"2011Q1","v":150},{"c":"Lanzhou","q":"2011Q2","v":155},{"c":"Lanzhou","q":"2011Q3","v":160},{"c":"Lanzhou","q":"2011Q4","v":165},{"c":"Lanzhou","q":"2012Q1","v":163},{"c":"Lanzhou","q":"2012Q2","v":168},{"c":"Lanzhou","q":"2012Q3","v":175},{"c":"Lanzhou","q":"2012Q4","v":180},{"c":"Lanzhou","q":"2013Q1","v":183},{"c":"Lanzhou","q":"2013Q2","v":186},{"c":"Lanzhou","q":"2013Q3","v":190},{"c":"Lanzhou","q":"2013Q4","v":190},
{"c":"Xining","q":"2006Q1","v":100},{"c":"Xining","q":"2006Q2","v":99},{"c":"Xining","q":"2006Q3","v":100},{"c":"Xining","q":"2006Q4","v":101},{"c":"Xining","q":"2007Q1","v":103},{"c":"Xining","q":"2007Q2","v":105},{"c":"Xining","q":"2007Q3","v":108},{"c":"Xining","q":"2007Q4","v":112},{"c":"Xining","q":"2008Q1","v":115},{"c":"Xining","q":"2008Q2","v":118},{"c":"Xining","q":"2008Q3","v":116},{"c":"Xining","q":"2008Q4","v":111},{"c":"Xining","q":"2009Q1","v":109},{"c":"Xining","q":"2009Q2","v":114},{"c":"Xining","q":"2009Q3","v":121},{"c":"Xining","q":"2009Q4","v":130},{"c":"Xining","q":"2010Q1","v":140},{"c":"Xining","q":"2010Q2","v":150},{"c":"Xining","q":"2010Q3","v":158},{"c":"Xining","q":"2010Q4","v":166},{"c":"Xining","q":"2011Q1","v":172},{"c":"Xining","q":"2011Q2","v":177},{"c":"Xining","q":"2011Q3","v":181},{"c":"Xining","q":"2011Q4","v":183},{"c":"Xining","q":"2012Q1","v":181},{"c":"Xining","q":"2012Q2","v":179},{"c":"Xining","q":"2012Q3","v":182},{"c":"Xining","q":"2012Q4","v":186},{"c":"Xining","q":"2013Q1","v":190},{"c":"Xining","q":"2013Q2","v":194},{"c":"Xining","q":"2013Q3","v":197},{"c":"Xining","q":"2013Q4","v":200},
{"c":"Yinchuan","q":"2006Q1","v":100},{"c":"Yinchuan","q":"2006Q2","v":100},{"c":"Yinchuan","q":"2006Q3","v":101},{"c":"Yinchuan","q":"2006Q4","v":103},{"c":"Yinchuan","q":"2007Q1","v":105},{"c":"Yinchuan","q":"2007Q2","v":108},{"c":"Yinchuan","q":"2007Q3","v":112},{"c":"Yinchuan","q":"2007Q4","v":117},{"c":"Yinchuan","q":"2008Q1","v":120},{"c":"Yinchuan","q":"2008Q2","v":123},{"c":"Yinchuan","q":"2008Q3","v":121},{"c":"Yinchuan","q":"2008Q4","v":116},{"c":"Yinchuan","q":"2009Q1","v":114},{"c":"Yinchuan","q":"2009Q2","v":119},{"c":"Yinchuan","q":"2009Q3","v":127},{"c":"Yinchuan","q":"2009Q4","v":137},{"c":"Yinchuan","q":"2010Q1","v":148},{"c":"Yinchuan","q":"2010Q2","v":158},{"c":"Yinchuan","q":"2010Q3","v":166},{"c":"Yinchuan","q":"2010Q4","v":174},{"c":"Yinchuan","q":"2011Q1","v":180},{"c":"Yinchuan","q":"2011Q2","v":185},{"c":"Yinchuan","q":"2011Q3","v":189},{"c":"Yinchuan","q":"2011Q4","v":191},{"c":"Yinchuan","q":"2012Q1","v":189},{"c":"Yinchuan","q":"2012Q2","v":187},{"c":"Yinchuan","q":"2012Q3","v":190},{"c":"Yinchuan","q":"2012Q4","v":194},{"c":"Yinchuan","q":"2013Q1","v":198},{"c":"Yinchuan","q":"2013Q2","v":202},{"c":"Yinchuan","q":"2013Q3","v":206},{"c":"Yinchuan","q":"2013Q4","v":210},
{"c":"Urumqi","q":"2006Q1","v":100},{"c":"Urumqi","q":"2006Q2","v":101},{"c":"Urumqi","q":"2006Q3","v":103},{"c":"Urumqi","q":"2006Q4","v":105},{"c":"Urumqi","q":"2007Q1","v":108},{"c":"Urumqi","q":"2007Q2","v":112},{"c":"Urumqi","q":"2007Q3","v":118},{"c":"Urumqi","q":"2007Q4","v":124},{"c":"Urumqi","q":"2008Q1","v":128},{"c":"Urumqi","q":"2008Q2","v":132},{"c":"Urumqi","q":"2008Q3","v":130},{"c":"Urumqi","q":"2008Q4","v":125},{"c":"Urumqi","q":"2009Q1","v":123},{"c":"Urumqi","q":"2009Q2","v":130},{"c":"Urumqi","q":"2009Q3","v":140},{"c":"Urumqi","q":"2009Q4","v":152},{"c":"Urumqi","q":"2010Q1","v":166},{"c":"Urumqi","q":"2010Q2","v":180},{"c":"Urumqi","q":"2010Q3","v":190},{"c":"Urumqi","q":"2010Q4","v":200},{"c":"Urumqi","q":"2011Q1","v":208},{"c":"Urumqi","q":"2011Q2","v":215},{"c":"Urumqi","q":"2011Q3","v":222},{"c":"Urumqi","q":"2011Q4","v":226},{"c":"Urumqi","q":"2012Q1","v":225},{"c":"Urumqi","q":"2012Q2","v":224},{"c":"Urumqi","q":"2012Q3","v":228},{"c":"Urumqi","q":"2012Q4","v":233},{"c":"Urumqi","q":"2013Q1","v":238},{"c":"Urumqi","q":"2013Q2","v":242},{"c":"Urumqi","q":"2013Q3","v":246},{"c":"Urumqi","q":"2013Q4","v":250}
]},
"encoding": {
  "x": {"field": "q", "type": "ordinal", "scale": {"type": "band", "paddingInner": 0, "paddingOuter": 0},
        "axis": {"title": null, "labelAngle": -90, "labelFont": "Liberation Serif", "labelFontSize": 22, "labelColor": "#333", "labelPadding": 13, "tickSize": 5, "tickBand": "extent", "tickColor": "#222", "domainColor": "#222", "domainWidth": 1.5, "labelOverlap": false, "grid": false}},
  "y": {"field": "v", "type": "quantitative", "scale": {"domain": [80, 580], "nice": false, "zero": false},
        "axis": {"title": null, "values": [80,130,180,230,280,330,380,430,480,530,580], "labelFont": "Liberation Serif", "labelFontSize": 20, "labelColor": "#333", "labelPadding": 11, "tickSize": 7, "tickColor": "#222", "domainColor": "#222", "domainWidth": 1.5, "grid": false}},
  "color": {"field": "c", "type": "nominal",
    "scale": {"domain": ["Beijing","Tianjin","Shijiazhuang","Taiyuan","Hohhot","Shenyang","Dalian","Changchun","Harbin","Shanghai","Nanjing","Hangzhou","Ningbo","Hefei","Fuzhou","Xiamen","Nanchang","Jinan","Qingdao","Zhengzhou","Wuhan","Changsha","Guangzhou","Shenzhen","Nanning","Haikou","Chongqing","Chengdu","Guiyang","Kunming","Xi'an","Lanzhou","Xining","Yinchuan","Urumqi"],
              "range": ["#111111","#111111","#111111","#111111","#111111","#2e2e2e","#2e2e2e","#2e2e2e","#2e2e2e","#2e2e2e","#474747","#474747","#474747","#474747","#474747","#5c5c5c","#5c5c5c","#5c5c5c","#5c5c5c","#5c5c5c","#7a7a7a","#7a7a7a","#7a7a7a","#7a7a7a","#7a7a7a","#9a9a9a","#9a9a9a","#9a9a9a","#9a9a9a","#9a9a9a","#b8b8b8","#b8b8b8","#b8b8b8","#b8b8b8","#b8b8b8"]},
    "legend": {"title": null, "orient": "none", "direction": "horizontal", "legendX": -25, "legendY": 471, "columns": 5, "gridAlign": "all", "columnPadding": 22, "rowPadding": 0, "symbolLimit": 50,
      "labelFont": "Liberation Serif", "labelFontSize": 22, "labelColor": "#222", "labelOffset": 12, "labelLimit": 300,
      "symbolSize": 3481, "symbolStrokeWidth": 2.2, "symbolFillColor": "white", "symbolDash": [],
      "encode": {"symbols": {"update": {
        "fill": {"value": "white"}, "strokeWidth": {"value": 2.2}, "opacity": {"value": 1}, "strokeDash": {"value": []},
        "shape": {"signal": "datum.index % 5 == 0 ? 'M-1,0L-0.17,0M0.17,0L1,0M0.17,0A0.17,0.17,0,1,1,-0.17,0A0.17,0.17,0,1,1,0.17,0' : datum.index % 5 == 1 ? 'M-1,0L-0.6,0M0.62,0L1,0M-0.2,-0.2L0.2,0.2M-0.2,0.2L0.2,-0.2' : datum.index % 5 == 2 ? 'M-1,0L-0.21,0M0.21,0L1,0M0,-0.21L0.21,0L0,0.21L-0.21,0Z' : datum.index == 3 ? 'M-1,0L-0.6,0M0.62,0L1,0M-0.15,-0.15L0.15,-0.15L0.15,0.15L-0.15,0.15Z' : datum.index % 5 == 3 ? 'M-1,0L-0.15,0M0.15,0L1,0M-0.15,-0.15L0.15,-0.15L0.15,0.15L-0.15,0.15Z' : (datum.index == 14 || datum.index == 34) ? 'M-1,0L-0.19,0M0.19,0L1,0M0,-0.21L0.21,0.16L-0.21,0.16Z' : 'M-1,0L-0.76,0M-0.64,0L-0.34,0M0.4,0L0.68,0M0.78,0L1,0M0,-0.21L0.21,0.16L-0.21,0.16Z'"}
      }}}}
  }
},
"layer": [
  {"transform": [{"filter": {"field": "c", "oneOf": ["Beijing","Shijiazhuang","Shenyang","Changchun","Harbin","Nanjing","Ningbo","Hefei","Fuzhou","Xiamen","Jinan","Qingdao","Wuhan","Guangzhou","Shenzhen","Haikou","Chengdu","Guiyang","Xi'an","Xining","Yinchuan","Urumqi"]}}],
   "mark": {"type": "line", "strokeWidth": 2.2}, "encoding": {}},
  {"transform": [{"filter": {"field": "c", "oneOf": ["Tianjin","Taiyuan","Dalian","Hangzhou","Nanchang","Changsha","Chongqing","Lanzhou"]}}],
   "mark": {"type": "line", "strokeWidth": 2.2, "strokeDash": [8, 5]}, "encoding": {}},
  {"transform": [{"filter": {"field": "c", "oneOf": ["Hohhot","Shanghai","Zhengzhou","Nanning","Kunming"]}}],
   "mark": {"type": "line", "strokeWidth": 2.2, "strokeDash": [5, 3]}, "encoding": {}},
  {"transform": [{"filter": {"field": "c", "oneOf": ["Beijing","Shenyang","Nanjing","Xiamen","Wuhan","Haikou","Xi'an"]}}],
   "mark": {"type": "point", "shape": "circle", "filled": false, "fill": "white", "size": 70, "strokeWidth": 1.5, "opacity": 1}},
  {"transform": [{"filter": {"field": "c", "oneOf": ["Tianjin","Dalian","Hangzhou","Nanchang","Changsha","Chongqing","Lanzhou"]}}],
   "mark": {"type": "point", "shape": "M-1,-1L1,1M-1,1L1,-1", "filled": false, "size": 60, "strokeWidth": 1.5, "opacity": 1}},
  {"transform": [{"filter": {"field": "c", "oneOf": ["Shijiazhuang","Changchun","Ningbo","Jinan","Guangzhou","Chengdu","Xining"]}}],
   "mark": {"type": "point", "shape": "diamond", "filled": false, "fill": "white", "size": 80, "strokeWidth": 1.5, "opacity": 1}},
  {"transform": [{"filter": {"field": "c", "oneOf": ["Taiyuan","Harbin","Hefei","Qingdao","Shenzhen","Guiyang","Yinchuan"]}}],
   "mark": {"type": "point", "shape": "square", "filled": false, "fill": "white", "size": 60, "strokeWidth": 1.5, "opacity": 1}},
  {"transform": [{"filter": {"field": "c", "oneOf": ["Hohhot","Shanghai","Fuzhou","Zhengzhou","Nanning","Kunming","Urumqi"]}}],
   "mark": {"type": "point", "shape": "triangle-up", "filled": false, "fill": "white", "size": 75, "strokeWidth": 1.5, "opacity": 1}}
]
}
